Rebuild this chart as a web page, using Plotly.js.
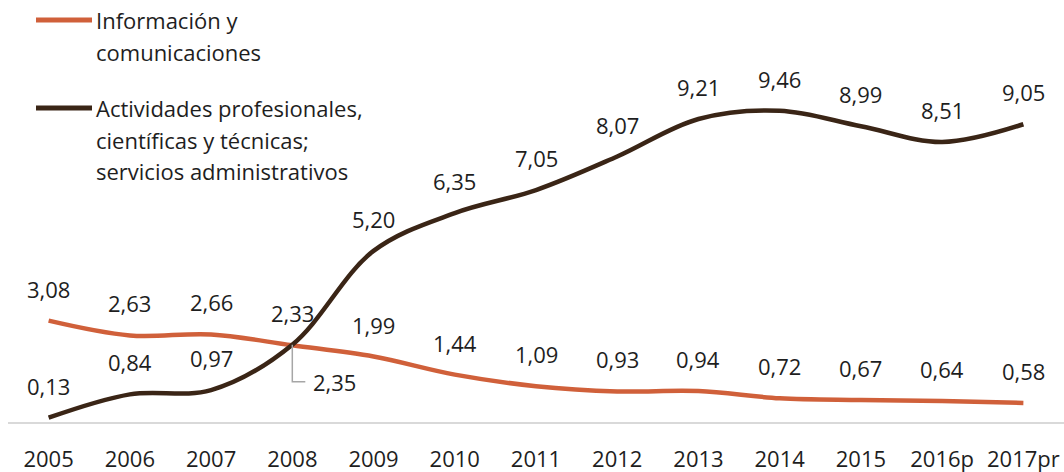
<!DOCTYPE html>
<html>
<head>
<meta charset="utf-8">
<script src="https://cdn.plot.ly/plotly-3.0.1.min.js"></script>
<style>
  html, body { margin: 0; padding: 0; background: #ffffff; }
  #chart { width: 1064px; height: 472px; }
</style>
</head>
<body>
<div id="chart"></div>
<script>
const years = ["2005","2006","2007","2008","2009","2010","2011","2012","2013","2014","2015","2016p","2017pr"];
const infoCom = [3.08, 2.63, 2.66, 2.33, 1.99, 1.44, 1.09, 0.93, 0.94, 0.72, 0.67, 0.64, 0.58];
const actProf = [0.13, 0.84, 0.97, 2.35, 5.20, 6.35, 7.05, 8.07, 9.21, 9.46, 8.99, 8.51, 9.05];
const seriesNames = [
  ["Información y", "comunicaciones"],
  ["Actividades profesionales,", "científicas y técnicas;", "servicios administrativos"]
];

const ORANGE = "#D0603A";
const BROWN = "#3A2516";
const TXT = "#1e1e1e";
const FONT = "Open Sans, Noto Sans, sans-serif";
const FS = 22;

const W = 1064, H = 472;
const M = { l: 8, r: 0, t: 93, b: 50 };
const pw = W - M.l - M.r, ph = H - M.t - M.b;
const px2x = p => (p - M.l) / pw;
const py2y = p => (H - M.b - p) / ph;

const fmt = v => v.toFixed(2).replace(".", ",");
const xi = years.map((_, i) => i);

const traces = [
  { x: xi, y: infoCom, type: "scatter", mode: "lines", name: seriesNames[0].join(" "),
    line: { color: ORANGE, width: 4.5, shape: "spline", smoothing: 1 }, hoverinfo: "skip" },
  { x: xi, y: actProf, type: "scatter", mode: "lines", name: seriesNames[1].join(" "),
    line: { color: BROWN, width: 4.5, shape: "spline", smoothing: 1 }, hoverinfo: "skip" }
];

const annotations = [];
const shapes = [];

// data labels
function addLabels(vals, skipIdx) {
  vals.forEach((v, i) => {
    if (i === skipIdx) return;
    annotations.push({ x: i, y: v, xref: "x", yref: "y", text: fmt(v), showarrow: false,
      yanchor: "middle", xanchor: "center", yshift: 32,
      font: { family: FONT, size: FS, color: TXT } });
  });
}
addLabels(infoCom, -1);
addLabels(actProf, 3);

// moved label with leader line for 2008 (Actividades)
const mi = 3;
shapes.push({ type: "path", xref: "x", yref: "y", xsizemode: "pixel", ysizemode: "pixel",
  xanchor: mi, yanchor: actProf[mi], path: "M0,0 V-37 H13",
  line: { color: "#A6A6A6", width: 1.5 } });
annotations.push({ x: mi, y: actProf[mi], xref: "x", yref: "y", text: fmt(actProf[mi]),
  showarrow: false, xanchor: "left", yanchor: "middle", xshift: 19, yshift: -37,
  font: { family: FONT, size: FS, color: TXT } });

// custom legend
const legendColors = [ORANGE, BROWN];
const legendTop = [20, 108];
const lineGap = 31.5;
seriesNames.forEach((lines, k) => {
  shapes.push({ type: "line", xref: "paper", yref: "paper",
    x0: px2x(36), x1: px2x(92), y0: py2y(legendTop[k]), y1: py2y(legendTop[k]),
    line: { color: legendColors[k], width: 5 } });
  lines.forEach((t, j) => {
    annotations.push({ xref: "paper", yref: "paper", x: px2x(94), y: py2y(legendTop[k] + j * lineGap),
      text: t, showarrow: false, xanchor: "left", yanchor: "middle",
      font: { family: FONT, size: FS, color: TXT } });
  });
});

const layout = {
  width: W, height: H,
  margin: M,
  paper_bgcolor: "#ffffff", plot_bgcolor: "#ffffff",
  showlegend: false,
  font: { family: FONT, size: FS, color: TXT },
  xaxis: {
    range: [-0.5, years.length - 0.5],
    tickvals: xi, ticktext: years,
    showgrid: false, zeroline: false,
    showline: true, linecolor: "#D9D9D9", linewidth: 1.5,
    ticks: "", ticklabelstandoff: 17,
    tickfont: { family: FONT, size: FS, color: TXT },
    fixedrange: true
  },
  yaxis: {
    range: [0, 10],
    visible: false, showgrid: false, zeroline: false,
    fixedrange: true
  },
  annotations: annotations,
  shapes: shapes
};

Plotly.newPlot("chart", traces, layout, { staticPlot: true, displayModeBar: false });
</script>
</body>
</html>
